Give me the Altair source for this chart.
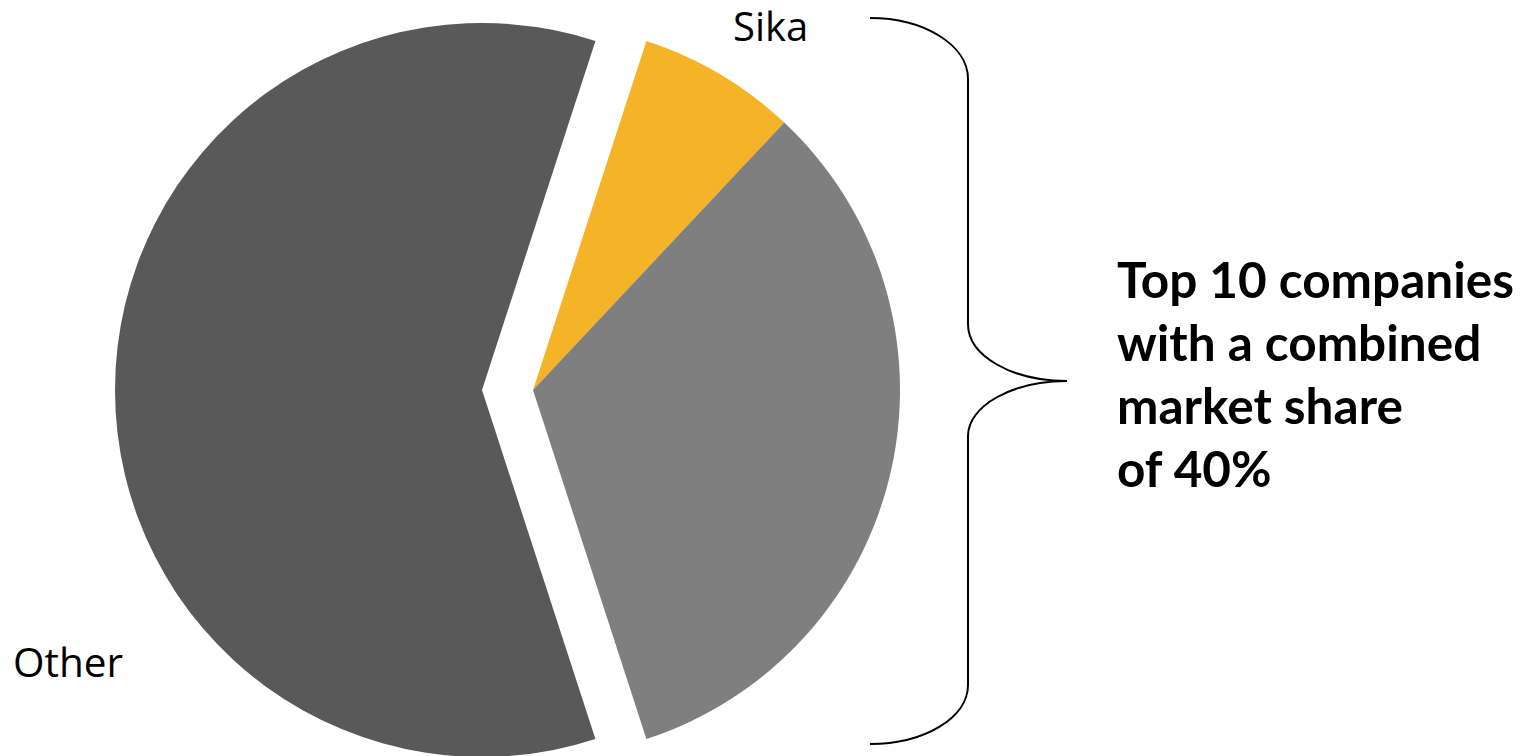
import math
import altair as alt
import pandas as pd

# ---- data ----
segments = ["Sika", "Top 10 (rest)", "Other"]
shares = [7, 33, 60]
groups = ["top", "top", "other"]
colors = ["#F5B327", "#7F7F7F", "#595959"]

label_texts = ["Sika", "Other"]
note_text = "Top 10 companies\nwith a combined\nmarket share\nof 40%"

W, H = 1527, 756
R = 367
START = math.pi / 10  # first slice begins 18° clockwise from 12 o'clock

df = pd.DataFrame({"segment": segments, "share": shares, "group": groups,
                   "order": list(range(len(segments)))})

base = alt.Chart(df).transform_window(
    cum="sum(share)", sort=[alt.SortField("order")], frame=[None, 0]
).transform_calculate(start="datum.cum - datum.share")

theta = alt.Theta("start:Q", scale=alt.Scale(domain=[0, 100], range=[START, START + 2 * math.pi]))
theta2 = alt.Theta2("cum:Q")
color = alt.Color("segment:N", scale=alt.Scale(domain=segments, range=colors), legend=None)

top_arcs = base.transform_filter("datum.group == 'top'").mark_arc(radius=R).encode(
    theta=theta, theta2=theta2, color=color,
    x=alt.value(533), y=alt.value(390),
)
other_arc = base.transform_filter("datum.group == 'other'").mark_arc(radius=R).encode(
    theta=theta, theta2=theta2, color=color,
    x=alt.value(482), y=alt.value(390),
)

sika_label = alt.Chart(pd.DataFrame({"t": [label_texts[0]]})).mark_text(
    font="Open Sans", fontSize=40, align="left", baseline="alphabetic", color="#000000"
).encode(text="t:N", x=alt.value(733), y=alt.value(41))

other_label = alt.Chart(pd.DataFrame({"t": [label_texts[1]]})).mark_text(
    font="Open Sans", fontSize=40.5, align="left", baseline="alphabetic", color="#000000"
).encode(text="t:N", x=alt.value(13), y=alt.value(677))

note = alt.Chart(pd.DataFrame({"t": [note_text]})).mark_text(
    font="Lato", fontSize=49.5, fontWeight="bold", align="left", baseline="alphabetic",
    lineBreak="\n", lineHeight=63, color="#000000"
).encode(text="t:N", x=alt.value(1117), y=alt.value(298))

brace_path = ("M -98 -363 C -44 -363 0 -336 0 -302 L 0 -57 "
              "C 0 -25 44 0 99 0 C 44 0 0 25 0 55 L 0 304 "
              "C 0 337 -44 363 -98 363")
brace = alt.Chart(pd.DataFrame({"k": [1]})).mark_point(
    shape=brace_path, size=4, filled=False, stroke="#000000", strokeWidth=2, opacity=1
).encode(x=alt.value(968), y=alt.value(381))

chart = alt.layer(other_arc, top_arcs, sika_label, other_label, note, brace).properties(
    width=W, height=H, padding=0, autosize=alt.AutoSizeParams(type="none"),
    background="#ffffff"
).configure_view(stroke=None)

chart.save("out.html", embed_options={"renderer": "svg", "actions": False})
